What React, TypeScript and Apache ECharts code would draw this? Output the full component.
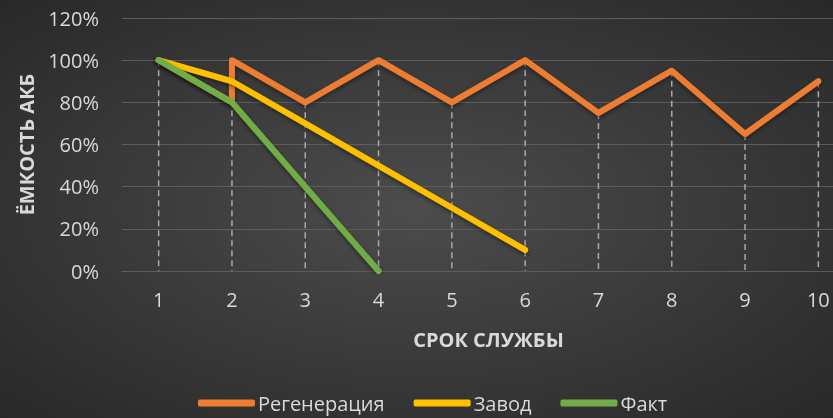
import React, { useEffect, useRef } from "react";
import * as echarts from "echarts";

const categories = ["1", "2", "3", "4", "5", "6", "7", "8", "9", "10"];
const regenCategories = ["1", "2", "2", "3", "4", "5", "6", "7", "8", "9", "10"];
const regenValues = [100, 80, 100, 80, 100, 80, 100, 75, 95, 65, 90];
const zavodValues = [100, 90, 70, 50, 30, 10];
const faktValues = [100, 80, 40, 0];
const yTicks = { min: 0, max: 120, interval: 20 };

const FONT = "Open Sans";
const TEXT = "#d9d9d9";

export default function App() {
  const ref = useRef<HTMLDivElement>(null);
  useEffect(() => {
    if (!ref.current) return;
    const chart = echarts.init(ref.current, null, { renderer: "svg" });
    const regenData = regenCategories.map((c, i) => [categories.indexOf(c), regenValues[i]]);
    const maxes = categories.map((c, i) => {
      const vals: number[] = [];
      regenCategories.forEach((rc, j) => { if (rc === c) vals.push(regenValues[j]); });
      if (i < zavodValues.length) vals.push(zavodValues[i]);
      if (i < faktValues.length) vals.push(faktValues[i]);
      return [i, Math.max(...vals)];
    });
    const lineShadow = { shadowColor: "rgba(0,0,0,0.45)", shadowBlur: 4, shadowOffsetY: 2 };
    chart.setOption({
      animation: false,
      backgroundColor: {
        type: "radial", x: 0.5, y: 0.5, r: 0.75,
        colorStops: [{ offset: 0, color: "#4c4c4c" }, { offset: 1, color: "#262626" }],
      },
      textStyle: { fontFamily: FONT },
      grid: { left: 122, width: 733, top: 18, height: 253, outerBoundsMode: "none", containLabel: false },
      legend: {
        left: 198, top: 393, padding: 0, icon: "roundRect", itemWidth: 57, itemHeight: 7, itemGap: 29,
        data: ["Регенерация", "Завод", "Факт"],
        textStyle: { color: TEXT, fontSize: 20, lineHeight: 18, fontFamily: FONT, padding: [0, 0, 0, -2] },
      },
      xAxis: {
        type: "category", data: categories, boundaryGap: true,
        name: "СРОК СЛУЖБЫ", nameLocation: "middle", nameGap: 58,
        nameTextStyle: { color: TEXT, fontSize: 20, fontWeight: "bold", fontFamily: FONT },
        axisLine: { lineStyle: { color: "#5c5c5c", width: 1 } },
        axisTick: { show: false },
        axisLabel: { color: TEXT, fontSize: 20, margin: 18, fontFamily: FONT },
        splitLine: { show: false },
      },
      yAxis: {
        type: "value", min: yTicks.min, max: yTicks.max, interval: yTicks.interval,
        name: "ЁМКОСТЬ АКБ", nameLocation: "middle", nameGap: 86, nameRotate: 90,
        nameTextStyle: { color: TEXT, fontSize: 20, fontWeight: "bold", fontFamily: FONT },
        axisLine: { show: false }, axisTick: { show: false },
        axisLabel: { color: TEXT, fontSize: 20, margin: 23, formatter: "{value}%", fontFamily: FONT },
        splitLine: { lineStyle: { color: "#5c5c5c", width: 1 } },
      },
      series: [
        {
          type: "custom", name: "drop", silent: true, z: 1,
          data: maxes,
          renderItem: (params: any, api: any) => {
            const x = api.value(0);
            const top = api.coord([x, api.value(1)]);
            const bot = api.coord([x, 0]);
            return {
              type: "line",
              shape: { x1: top[0], y1: top[1], x2: bot[0], y2: bot[1] },
              style: { stroke: "#a8a8a8", lineWidth: 1.5, lineDash: [6, 4] },
            };
          },
        },
        {
          type: "line", name: "Регенерация", data: regenData, showSymbol: false, symbol: "none", z: 3,
          color: "#ED7D31",
          lineStyle: { color: "#ED7D31", width: 6, cap: "round", join: "round", ...lineShadow },
        },
        {
          type: "line", name: "Завод", data: zavodValues, showSymbol: false, symbol: "none", z: 4,
          color: "#FFC000",
          lineStyle: { color: "#FFC000", width: 6, cap: "round", join: "round", ...lineShadow },
        },
        {
          type: "line", name: "Факт", data: faktValues, showSymbol: false, symbol: "none", z: 5,
          color: "#70AD47",
          lineStyle: { color: "#70AD47", width: 6, cap: "round", join: "round", ...lineShadow },
        },
      ],
    });
    return () => chart.dispose();
  }, []);
  return <div ref={ref} style={{ width: 833, height: 418, position: "fixed", left: 0, top: 0 }} />;
}
